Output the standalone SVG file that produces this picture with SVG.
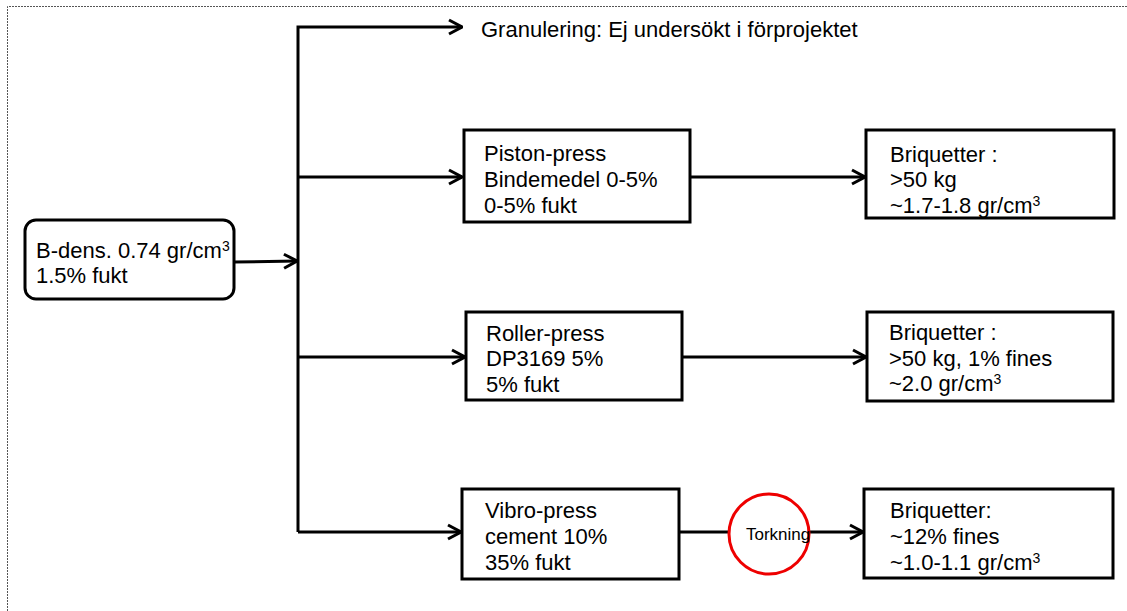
<svg xmlns="http://www.w3.org/2000/svg" width="1127" height="611" viewBox="0 0 1127 611">
<style>
.box{fill:#fff;stroke:#000;stroke-width:3}
.t{font-family:"Liberation Sans",Arial,sans-serif;font-size:22px;fill:#000}
.sup{font-size:14px}
.c{fill:none;stroke:#000;stroke-width:3}
</style>
<defs>
<marker id="ah" viewBox="0 0 16 18" refX="15" refY="9" markerWidth="16" markerHeight="18" markerUnits="userSpaceOnUse" orient="auto">
<polyline points="2,2 15,9 2,16" fill="none" stroke="#000" stroke-width="3"/>
</marker>
</defs>
<rect width="1127" height="611" fill="#fff"/>
<path d="M7.5,620 V6.5 H1135" fill="none" stroke="#555" stroke-width="1" stroke-dasharray="2,1"/>
<g id="connectors">
<path class="c" d="M298,532 V27 H462" marker-end="url(#ah)"/>
<path class="c" d="M234,262 L297,261" marker-end="url(#ah)"/>
<path class="c" d="M298,177 H462" marker-end="url(#ah)"/>
<path class="c" d="M298,357 H465" marker-end="url(#ah)"/>
<path class="c" d="M298,532 H461" marker-end="url(#ah)"/>
<path class="c" d="M690,177 H865" marker-end="url(#ah)"/>
<path class="c" d="M682,357 H866" marker-end="url(#ah)"/>
<path class="c" d="M679,532 H728"/>
<path class="c" d="M810,532 H863" marker-end="url(#ah)"/>
</g>
<g id="granulering">
<text class="t" x="481" y="37">Granulering: Ej undersökt i förprojektet</text>
</g>
<g id="source">
<rect class="box" x="25" y="220" width="209" height="79" rx="11"/>
<text class="t" x="36" y="258">B-dens. 0.74 gr/cm<tspan class="sup" dy="-7">3</tspan></text>
<text class="t" x="36" y="283">1.5% fukt</text>
</g>
<g id="piston">
<rect class="box" x="464" y="130" width="226" height="92"/>
<text class="t" x="484" y="161">Piston-press</text>
<text class="t" x="484" y="187">Bindemedel 0-5%</text>
<text class="t" x="484" y="213">0-5% fukt</text>
</g>
<g id="briq1">
<rect class="box" x="866" y="130" width="248" height="88"/>
<text class="t" x="890" y="162">Briquetter :</text>
<text class="t" x="890" y="187">&gt;50 kg</text>
<text class="t" x="890" y="213">~1.7-1.8 gr/cm<tspan class="sup" dy="-7">3</tspan></text>
</g>
<g id="roller">
<rect class="box" x="466" y="312" width="216" height="88"/>
<text class="t" x="486" y="341">Roller-press</text>
<text class="t" x="486" y="366">DP3169 5%</text>
<text class="t" x="486" y="392">5% fukt</text>
</g>
<g id="briq2">
<rect class="box" x="867" y="312" width="246" height="89"/>
<text class="t" x="889" y="340">Briquetter :</text>
<text class="t" x="889" y="366">&gt;50 kg, 1% fines</text>
<text class="t" x="889" y="391">~2.0 gr/cm<tspan class="sup" dy="-7">3</tspan></text>
</g>
<g id="vibro">
<rect class="box" x="462" y="489" width="217" height="90"/>
<text class="t" x="485" y="518">Vibro-press</text>
<text class="t" x="485" y="544">cement 10%</text>
<text class="t" x="485" y="570">35% fukt</text>
</g>
<g id="torkning">
<circle cx="769" cy="534" r="40" fill="none" stroke="#e00" stroke-width="3"/>
<text x="746" y="540" style="font-family:'Liberation Sans',Arial,sans-serif;font-size:17px;fill:#000">Torkning</text>
</g>
<g id="briq3">
<rect class="box" x="864" y="489" width="249" height="89"/>
<text class="t" x="890" y="518">Briquetter:</text>
<text class="t" x="890" y="544">~12% fines</text>
<text class="t" x="890" y="570">~1.0-1.1 gr/cm<tspan class="sup" dy="-7">3</tspan></text>
</g>
</svg>
